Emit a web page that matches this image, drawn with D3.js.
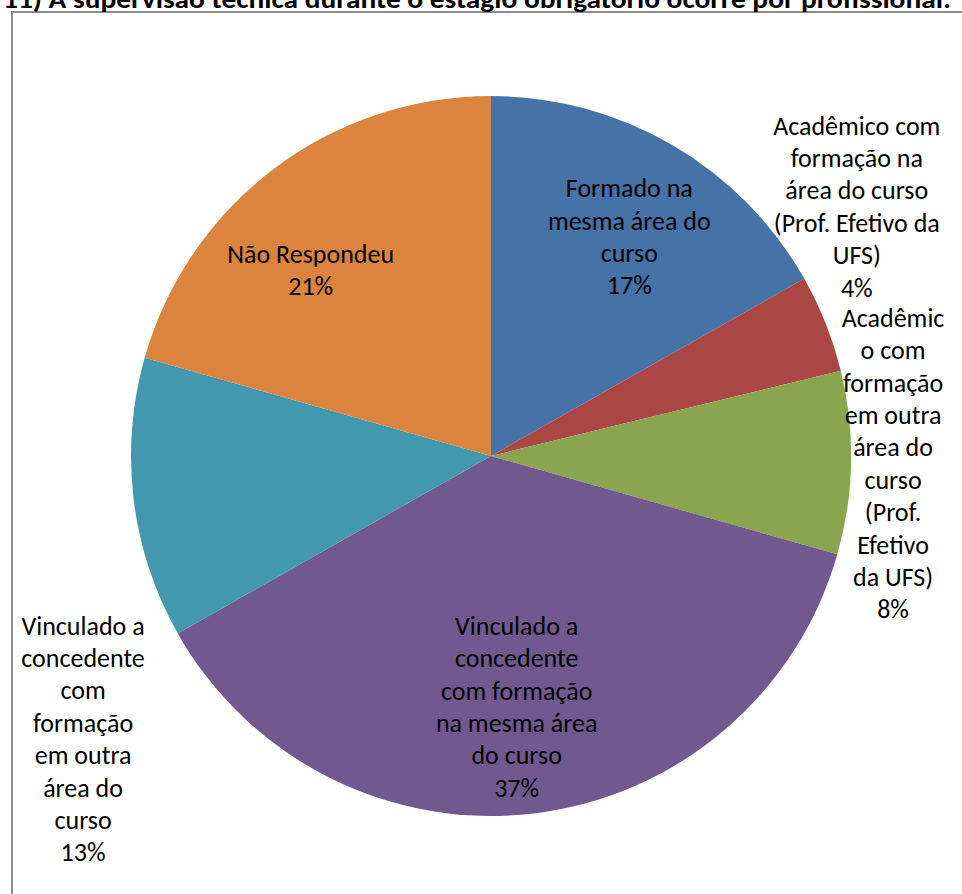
<!DOCTYPE html>
<html>
<head>
<meta charset="utf-8">
<script src="https://cdn.jsdelivr.net/npm/d3@7/dist/d3.min.js"></script>
<style>
  html, body { margin: 0; padding: 0; background: #fff; }
  svg { display: block; }
</style>
</head>
<body>
<svg id="chart" width="962" height="894"></svg>
<script>
// ---- data ----
const title = "11) A supervisão técnica durante o estágio obrigatório ocorre por profissional:";
const categories = [
  "Formado na mesma área do curso",
  "Acadêmico com formação na área do curso (Prof. Efetivo da UFS)",
  "Acadêmico com formação em outra área do curso (Prof. Efetivo da UFS)",
  "Vinculado a concedente com formação na mesma área do curso",
  "Vinculado a concedente com formação em outra área do curso",
  "Não Respondeu"
];
const values = [16.8, 4.4, 8.2, 37.4, 12.6, 20.6];
const percentLabels = ["17%", "4%", "8%", "37%", "13%", "21%"];
const labelLines = [
  ["Formado na", "mesma área do", "curso"],
  ["Acadêmico com", "formação na", "área do curso", "(Prof. Efetivo da", "UFS)"],
  ["Acadêmic", "o com", "formação", "em outra", "área do", "curso", "(Prof.", "Efetivo", "da UFS)"],
  ["Vinculado a", "concedente", "com formação", "na mesma área", "do curso"],
  ["Vinculado a", "concedente", "com", "formação", "em outra", "área do", "curso"],
  ["Não Respondeu"]
];
const colors = ["#4572A7", "#AA4643", "#89A54E", "#71588F", "#4198AF", "#DB843D"];

// ---- layout ----
const cx = 491, cy = 456, R = 360;
const lineH = 32.4;
const fontSize = 26;
// label centre relative to pie centre: radius factor and angle shift (deg) from slice mid-angle
const labelPlacement = [
  {rf: 0.72, da: 2},
  {rf: 1.23, da: -12.7},
  {rf: 1.117, da: 0},
  {rf: 0.70, da: 1},
  {rf: 1.379, da: -27.9},
  {rf: 0.72, da: -7}
];

const svg = d3.select("#chart");
const font = "Calibri, Carlito, 'Open Sans', Lato, sans-serif";

// frame
svg.append("rect")
  .attr("x", 12).attr("y", 12)
  .attr("width", 1000).attr("height", 1000)
  .attr("fill", "none")
  .attr("stroke", "#8c8c8c")
  .attr("stroke-width", 2);

// title (partially cut off at top, as in the reference)
svg.append("text")
  .attr("x", 3).attr("y", 8)
  .attr("font-family", font)
  .attr("font-weight", "bold")
  .attr("font-size", 26)
  .attr("textLength", 948)
  .attr("lengthAdjust", "spacingAndGlyphs")
  .attr("fill", "#000")
  .text(title);

const pie = d3.pie().sort(null).value(d => d)(values);
const arc = d3.arc().innerRadius(0).outerRadius(R);

const g = svg.append("g").attr("transform", `translate(${cx},${cy})`);
g.selectAll("path.slice")
  .data(pie)
  .join("path")
  .attr("class", "slice")
  .attr("d", arc)
  .attr("fill", (d, i) => colors[i]);

// labels
pie.forEach((d, i) => {
  const p = labelPlacement[i];
  const mid = (d.startAngle + d.endAngle) / 2 + p.da * Math.PI / 180;
  const x = Math.sin(mid) * R * p.rf;
  const y = -Math.cos(mid) * R * p.rf;
  const lines = labelLines[i].concat([percentLabels[i]]);
  const n = lines.length;
  const t = g.append("text")
    .attr("font-family", font)
    .attr("font-size", fontSize)
    .attr("fill", "#000")
    .attr("text-anchor", "middle");
  lines.forEach((ln, k) => {
    t.append("tspan")
      .attr("x", x)
      .attr("y", y + (k - (n - 1) / 2) * lineH)
      .attr("dy", "0.35em")
      .text(ln);
  });
});
</script>
</body>
</html>
